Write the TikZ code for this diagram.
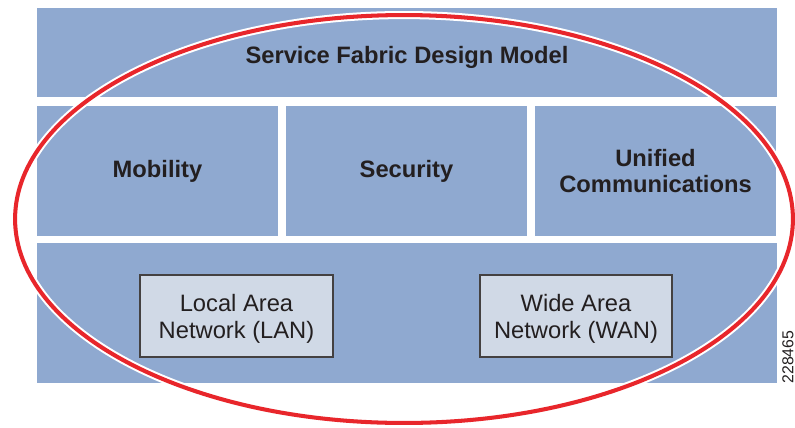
\documentclass[tikz,border=0pt]{standalone}
\usepackage{fontspec}
\setmainfont{Liberation Sans}
\definecolor{panelblue}{HTML}{8FA9D0}
\definecolor{boxgray}{HTML}{D0D9E6}
\definecolor{ink}{HTML}{231F20}
\definecolor{ringred}{HTML}{E8262B}
\tikzset{
  panel/.style 2 args={fill=panelblue, minimum width=#1cm, minimum height=#2cm,
    inner sep=0pt, align=center, text=ink,
    font=\fontsize{13.5}{15}\selectfont\bfseries},
  netbox/.style={draw=ink!85, line width=0.7pt, fill=boxgray, minimum width=#1cm,
    minimum height=1.64cm, inner sep=0pt},
  boxtext/.style={text=ink, align=center, yshift=-1.7pt,
    font=\fontsize{13.5}{15.5}\selectfont},
}
\newcommand{\setup}{
    \coordinate (p0) at (407,52.5);  % top bar
    \coordinate (p1) at (157.5,171);
    \coordinate (p2) at (406.5,171);
    \coordinate (p3) at (655.5,171);
    \coordinate (p4) at (407,313);   % base
    \coordinate (p5) at (236.5,316);
    \coordinate (p6) at (576,316);
    \coordinate (p7) at (404,219);   % ring centre
}
\begin{document}
\begin{tikzpicture}[x=0.02cm,y=-0.02cm]
    \useasboundingbox (0,0) rectangle (795,427);
    \setup;

    \node[panel={14.8}{1.8}, text height=15pt, text depth=3pt] (model) at (p0) {Service Fabric Design Model};
    \node[panel={4.82}{2.6}] (mobility) at (p1) {Mobility};
    \node[panel={4.82}{2.6}] (security) at (p2) {Security};
    \node[panel={4.82}{2.6}] (unified) at (p3) {Unified\\Communications};
    \node[panel={14.8}{2.8}] (base) at (p4) {};

    \node[netbox=3.86, label={[boxtext]center:Local Area\\Network (LAN)}] (lan) at (p5) {};
    \node[netbox=3.84, label={[boxtext]center:Wide Area\\Network (WAN)}] (wan) at (p6) {};

    \draw[white, line width=4.6pt] (p7) ellipse [x radius=7.78cm, y radius=4.08cm];
    \draw[ringred, line width=2.3pt] (p7) ellipse [x radius=7.78cm, y radius=4.08cm];

    \node[rotate=90, text=ink, font=\fontsize{9}{9}\selectfont] (fignum) at (788,357) {228465};
\end{tikzpicture}
\end{document}
